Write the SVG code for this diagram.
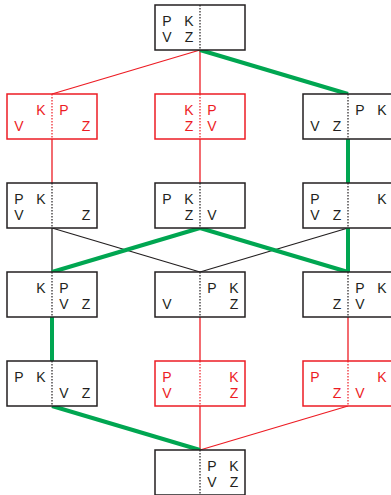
<svg xmlns="http://www.w3.org/2000/svg" width="391" height="495" viewBox="0 0 391 495">
<style>
.bx{fill:#fff;stroke:#231f20;stroke-width:1.5}
.rb{fill:#fff;stroke:#ed1c24;stroke-width:1.5}
.dv{stroke:#231f20;stroke-width:1.2;stroke-dasharray:1.5 1.5}
.rd{stroke:#ed1c24;stroke-width:1.2;stroke-dasharray:1.5 1.5}
text{font-family:"Liberation Sans",Arial,sans-serif;font-size:14px;text-anchor:middle;fill:#231f20}
.r text{fill:#ed1c24}
.cr{stroke:#ed1c24;stroke-width:1.3;fill:none}
.cg{stroke:#00a651;stroke-width:4;fill:none}
.ck{stroke:#231f20;stroke-width:1.3;fill:none}
</style>
<rect width="391" height="495" fill="#fff"/>
<g id="connectors">
<line class="cr" x1="200" y1="50" x2="52" y2="94"/>
<line class="cr" x1="200" y1="50" x2="200" y2="94"/>
<line class="cr" x1="52" y1="139" x2="52" y2="183"/>
<line class="cr" x1="200" y1="139" x2="200" y2="183"/>
<line class="ck" x1="52" y1="228" x2="52" y2="272"/>
<line class="ck" x1="52" y1="228" x2="200" y2="272"/>
<line class="ck" x1="348" y1="228" x2="200" y2="272"/>
<line class="cr" x1="200" y1="317" x2="200" y2="361"/>
<line class="cr" x1="348" y1="317" x2="348" y2="361"/>
<line class="cr" x1="200" y1="406" x2="200" y2="450"/>
<line class="cr" x1="348" y1="406" x2="200" y2="450"/>
<line class="cg" x1="200" y1="50" x2="348" y2="94"/>
<line class="cg" x1="348" y1="139" x2="348" y2="183"/>
<line class="cg" x1="200" y1="228" x2="52" y2="272"/>
<line class="cg" x1="200" y1="228" x2="348" y2="272"/>
<line class="cg" x1="348" y1="228" x2="348" y2="272"/>
<line class="cg" x1="52" y1="317" x2="52" y2="361"/>
<line class="cg" x1="52" y1="406" x2="200" y2="450"/>
</g>
<g id="n1" transform="translate(155,5)"><rect class="bx" width="90" height="45"/><line class="dv" x1="45" y1="0" x2="45" y2="45"/><text x="12" y="21">P</text><text x="34" y="21">K</text><text x="12" y="37">V</text><text x="34" y="37">Z</text></g>
<g id="n2a" class="r" transform="translate(7,94)"><rect class="rb" width="90" height="45"/><line class="rd" x1="45" y1="0" x2="45" y2="45"/><text x="34" y="21">K</text><text x="57" y="21">P</text><text x="12" y="37">V</text><text x="79" y="37">Z</text></g>
<g id="n2b" class="r" transform="translate(155,94)"><rect class="rb" width="90" height="45"/><line class="rd" x1="45" y1="0" x2="45" y2="45"/><text x="34" y="21">K</text><text x="57" y="21">P</text><text x="34" y="37">Z</text><text x="57" y="37">V</text></g>
<g id="n2c" transform="translate(303,94)"><rect class="bx" width="90" height="45"/><line class="dv" x1="45" y1="0" x2="45" y2="45"/><text x="57" y="21">P</text><text x="79" y="21">K</text><text x="12" y="37">V</text><text x="34" y="37">Z</text></g>
<g id="n3a" transform="translate(7,183)"><rect class="bx" width="90" height="45"/><line class="dv" x1="45" y1="0" x2="45" y2="45"/><text x="12" y="21">P</text><text x="34" y="21">K</text><text x="12" y="37">V</text><text x="79" y="37">Z</text></g>
<g id="n3b" transform="translate(155,183)"><rect class="bx" width="90" height="45"/><line class="dv" x1="45" y1="0" x2="45" y2="45"/><text x="12" y="21">P</text><text x="34" y="21">K</text><text x="34" y="37">Z</text><text x="57" y="37">V</text></g>
<g id="n3c" transform="translate(303,183)"><rect class="bx" width="90" height="45"/><line class="dv" x1="45" y1="0" x2="45" y2="45"/><text x="12" y="21">P</text><text x="79" y="21">K</text><text x="12" y="37">V</text><text x="34" y="37">Z</text></g>
<g id="n4a" transform="translate(7,272)"><rect class="bx" width="90" height="45"/><line class="dv" x1="45" y1="0" x2="45" y2="45"/><text x="34" y="21">K</text><text x="57" y="21">P</text><text x="57" y="37">V</text><text x="79" y="37">Z</text></g>
<g id="n4b" transform="translate(155,272)"><rect class="bx" width="90" height="45"/><line class="dv" x1="45" y1="0" x2="45" y2="45"/><text x="57" y="21">P</text><text x="79" y="21">K</text><text x="12" y="37">V</text><text x="79" y="37">Z</text></g>
<g id="n4c" transform="translate(303,272)"><rect class="bx" width="90" height="45"/><line class="dv" x1="45" y1="0" x2="45" y2="45"/><text x="57" y="21">P</text><text x="79" y="21">K</text><text x="34" y="37">Z</text><text x="57" y="37">V</text></g>
<g id="n5a" transform="translate(7,361)"><rect class="bx" width="90" height="45"/><line class="dv" x1="45" y1="0" x2="45" y2="45"/><text x="12" y="21">P</text><text x="34" y="21">K</text><text x="57" y="37">V</text><text x="79" y="37">Z</text></g>
<g id="n5b" class="r" transform="translate(155,361)"><rect class="rb" width="90" height="45"/><line class="rd" x1="45" y1="0" x2="45" y2="45"/><text x="12" y="21">P</text><text x="79" y="21">K</text><text x="12" y="37">V</text><text x="79" y="37">Z</text></g>
<g id="n5c" class="r" transform="translate(303,361)"><rect class="rb" width="90" height="45"/><line class="rd" x1="45" y1="0" x2="45" y2="45"/><text x="12" y="21">P</text><text x="79" y="21">K</text><text x="34" y="37">Z</text><text x="57" y="37">V</text></g>
<g id="n6" transform="translate(155,450)"><rect class="bx" width="90" height="45"/><line class="dv" x1="45" y1="0" x2="45" y2="45"/><text x="57" y="21">P</text><text x="79" y="21">K</text><text x="57" y="37">V</text><text x="79" y="37">Z</text></g>
</svg>
